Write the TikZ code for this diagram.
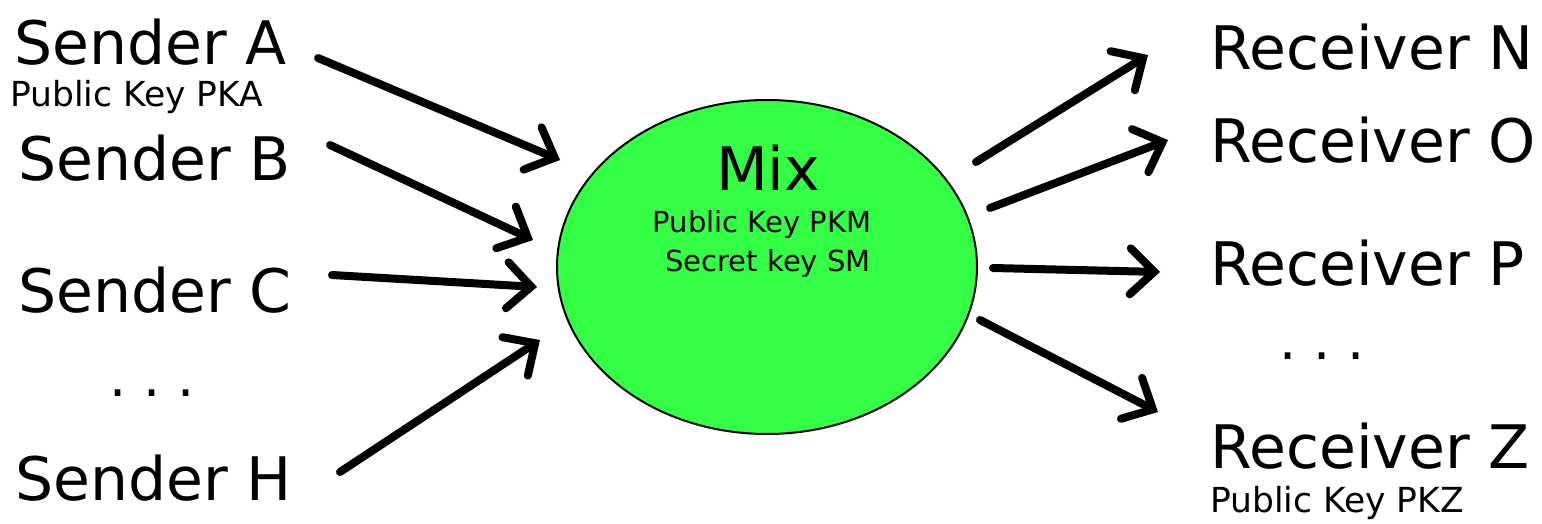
\documentclass[tikz,border=0pt]{standalone}
\usepackage{fontspec}
\setmainfont{DejaVu Sans}
\usetikzlibrary{arrows.meta,shapes.geometric}
\definecolor{mixgreen}{RGB}{51,255,68}
\tikzset{
  big/.style={anchor=base west, inner sep=0pt, font=\fontsize{60}{60}\selectfont},
  small/.style={anchor=base west, inner sep=0pt, font=\fontsize{34.5}{34.5}\selectfont},
  keytext/.style={anchor=base, inner sep=0pt, font=\fontsize{29}{29}\selectfont},
  ellipsis/.style={anchor=base, inner sep=0pt, font=\fontsize{54}{54}\selectfont},
  flow/.style={line width=8pt, line cap=round, line join=round,
    -{Straight Barb[length=24pt, width=46pt, line cap=round]}},
  mixnode/.style={ellipse, draw=black, line width=2pt, fill=mixgreen,
    minimum width=420pt, minimum height=334pt, inner sep=0pt},
}
\newcommand{\threedots}{.\hspace{17pt}.\hspace{17pt}.}
\begin{document}
\begin{tikzpicture}[x=1pt, y=-1pt]
  \useasboundingbox (0,0) rectangle (1542,524);

  % the mix
  \node[mixnode] (mix) at (767,267) {};
  \node[anchor=base, inner sep=0pt, font=\fontsize{60}{60}\selectfont] (mixlabel) at (768,190) {Mix};
  \node[keytext] (pkm) at (762,232) {Public Key PKM};
  \node[keytext] (sm) at (768,271) {Secret key SM};

  % senders
  \node[big] (sa) at (14,65) {Sender A};
  \node[small] (pka) at (10,107) {Public Key PKA};
  \node[big] (sb) at (18,180) {Sender B};
  \node[big] (sc) at (18,312) {Sender C};
  \node[ellipsis] (sdots) at (152,396) {\threedots};
  \node[big] (sh) at (15,500) {Sender H};

  % receivers
  \node[big] (rn) at (1210,70) {Receiver N};
  \node[big] (ro) at (1210,162) {Receiver O};
  \node[big] (rp) at (1210,285) {Receiver P};
  \node[ellipsis] (rdots) at (1322,359) {\threedots};
  \node[big] (rz) at (1210,468) {Receiver Z};
  \node[small] (pkz) at (1210,512) {Public Key PKZ};

  % arrow end points
  \coordinate (a0) at (318,58);  \coordinate (a1) at (560,160);
  \coordinate (b0) at (330,145); \coordinate (b1) at (533,240);
  \coordinate (c0) at (332,275); \coordinate (c1) at (537,287);
  \coordinate (h0) at (340,472); \coordinate (h1) at (540,340);
  \coordinate (n0) at (976,162); \coordinate (n1) at (1148,55);
  \coordinate (o0) at (990,208); \coordinate (o1) at (1168,140);
  \coordinate (p0) at (993,268); \coordinate (p1) at (1160,272);
  \coordinate (z0) at (980,320); \coordinate (z1) at (1158,412);

  \draw[flow] (a0) -- (a1);
  \draw[flow] (b0) -- (b1);
  \draw[flow] (c0) -- (c1);
  \draw[flow] (h0) -- (h1);
  \draw[flow] (n0) -- (n1);
  \draw[flow] (o0) -- (o1);
  \draw[flow] (p0) -- (p1);
  \draw[flow] (z0) -- (z1);
\end{tikzpicture}
\end{document}
